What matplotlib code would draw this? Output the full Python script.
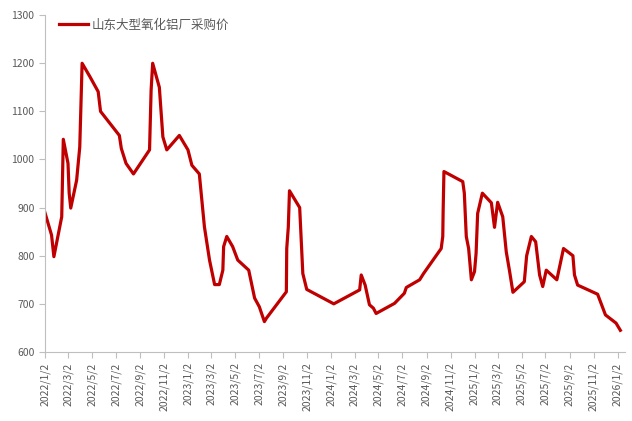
import matplotlib
matplotlib.use("Agg")
import matplotlib.pyplot as plt
import matplotlib.dates as mdates
from matplotlib.ticker import FuncFormatter
import pandas as pd

plt.rcParams["font.family"] = ["Noto Sans CJK SC", "DejaVu Sans"]

# ============================================
# Data
# ============================================

series_name = "山东大型氧化铝厂采购价"

dates = [
    "2022-01-02", "2022-01-19", "2022-01-25", "2022-02-14", "2022-02-18",
    "2022-03-02", "2022-03-05", "2022-03-09", "2022-03-24", "2022-04-01",
    "2022-04-07", "2022-04-27", "2022-05-18", "2022-05-24", "2022-07-11",
    "2022-07-16", "2022-07-28", "2022-08-16", "2022-09-26", "2022-09-30",
    "2022-10-04", "2022-10-21", "2022-10-30", "2022-11-09", "2022-12-11",
    "2023-01-02", "2023-01-12", "2023-01-31", "2023-02-13", "2023-02-26",
    "2023-03-11", "2023-03-23", "2023-04-01", "2023-04-03", "2023-04-11",
    "2023-04-26", "2023-05-09", "2023-06-06", "2023-06-21", "2023-07-03",
    "2023-07-16", "2023-07-21", "2023-09-10", "2023-09-11", "2023-09-15",
    "2023-09-18", "2023-10-14", "2023-10-22", "2023-11-01", "2024-01-09",
    "2024-03-15", "2024-03-19", "2024-03-29", "2024-04-09", "2024-04-19",
    "2024-04-26", "2024-06-12", "2024-07-07", "2024-07-12", "2024-08-15",
    "2024-08-25", "2024-10-09", "2024-10-13", "2024-10-14", "2024-10-16",
    "2024-12-03", "2024-12-07", "2024-12-12", "2024-12-18", "2024-12-25",
    "2025-01-02", "2025-01-06", "2025-01-10", "2025-01-22", "2025-02-14",
    "2025-02-22", "2025-03-02", "2025-03-15", "2025-03-24", "2025-04-01",
    "2025-04-10", "2025-05-09", "2025-05-15", "2025-05-27", "2025-06-07",
    "2025-06-17", "2025-06-25", "2025-07-04", "2025-07-31", "2025-08-17",
    "2025-09-10", "2025-09-14", "2025-09-22", "2025-11-12", "2025-12-02",
    "2025-12-29", "2026-01-09",
]

prices = [
    890, 843, 798, 881, 1042,
    992, 930, 899, 957, 1026,
    1200, 1172, 1141, 1100, 1050,
    1023, 992, 970, 1020, 1144,
    1200, 1150, 1047, 1020, 1050,
    1020, 988, 970, 860, 791,
    740, 740, 770, 819, 840,
    819, 791, 770, 712, 694,
    663, 670, 725, 815, 860,
    935, 900, 763, 730, 700,
    729, 760, 739, 698, 691,
    680, 701, 722, 734, 750,
    763, 815, 840, 895, 975,
    954, 930, 840, 815, 750,
    767, 805, 888, 930, 910,
    859, 911, 881, 808, 770,
    724, 746, 800, 840, 829,
    760, 736, 770, 750, 815,
    800, 760, 739, 720, 677,
    660, 645,
]

y_ticks = [600, 700, 800, 900, 1000, 1100, 1200, 1300]

df = pd.DataFrame({"date": pd.to_datetime(dates), "price": prices})

# ============================================
# Plot
# ============================================

fig = plt.figure(figsize=(6.32, 4.21), dpi=100)
ax = fig.add_axes([0.071, 0.164, 0.918, 0.8])

ax.plot(df["date"], df["price"], color="#C00000", linewidth=2.3,
        solid_joinstyle="round", label=series_name)

ax.set_ylim(600, 1300)
ax.set_yticks(y_ticks)
ax.set_xlim(pd.Timestamp("2022-01-02"), pd.Timestamp("2026-01-21"))

ax.xaxis.set_major_locator(mdates.MonthLocator(bymonth=[1, 3, 5, 7, 9, 11], bymonthday=2))
ax.xaxis.set_major_formatter(
    FuncFormatter(lambda v, pos: (lambda d: f"{d.year}/{d.month}/{d.day}")(mdates.num2date(v)))
)

for side in ["top", "right"]:
    ax.spines[side].set_visible(False)
for side in ["left", "bottom"]:
    ax.spines[side].set_color("#BFBFBF")
    ax.spines[side].set_linewidth(0.8)

ax.tick_params(axis="both", colors="#BFBFBF", length=4, width=0.8,
               labelcolor="#595959", labelsize=7.5)
plt.setp(ax.get_xticklabels(), rotation=90)

ax.legend(loc="upper left", bbox_to_anchor=(0.012, 1.012), frameon=False,
          fontsize=9, labelcolor="#595959", handlelength=2.3,
          handletextpad=0.3, borderaxespad=0.2)

fig.savefig("out.png", dpi=100)
